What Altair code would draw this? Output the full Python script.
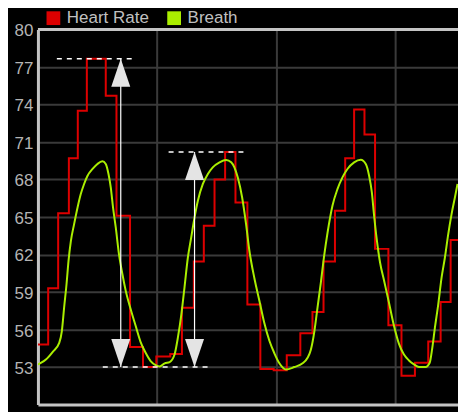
import altair as alt
import pandas as pd

# ---- data (time in s, value in bpm / breath scale) ----
series_names = ["Heart Rate", "Breath"]
series_colors = ["#dd0000", "#aaee00"]

hr_time = [0, 0.86, 1.70, 2.60, 3.35, 4.11, 5.70, 6.60, 7.74, 8.83, 9.95,
           11.12, 12.10, 13.10, 13.94, 14.84, 15.73, 16.60, 17.60, 18.69, 19.81,
           20.91, 22.05, 23.07, 24.00, 24.96, 25.82, 26.57, 27.44, 28.33, 29.45,
           30.55, 31.68, 32.80, 33.84, 34.68, 35.3]
hr_value = [54.8, 59.3, 65.3, 69.7, 73.5, 77.65, 74.7, 65.1, 54.6, 53.0, 53.85,
            54.05, 57.75, 61.45, 64.3, 68.0, 70.2, 66.15, 58.0, 52.85, 52.75,
            53.95, 55.7, 57.4, 61.45, 65.5, 69.7, 73.6, 71.6, 62.45, 56.35,
            52.3, 53.35, 55.05, 58.2, 63.15, 63.15]

br_time = [0, 0.11, 0.67, 1.23, 1.79, 2.01, 2.20, 2.41, 2.57, 2.77,
           3.04, 3.33, 3.60, 3.88, 4.17, 4.59, 5.00, 5.42, 5.70, 5.93,
           6.12, 6.31, 6.54, 6.81, 7.10, 7.38, 7.80, 8.21, 8.63, 9.05,
           9.47, 9.89, 10.23, 10.65, 11.07, 11.48, 11.76, 12.05, 12.32, 12.60,
           12.88, 13.16, 13.44, 13.86, 14.28, 14.69, 15.26, 15.82, 16.24, 16.51,
           16.79, 17.16, 17.49, 17.77, 18.19, 18.61, 19.03, 19.45, 19.87, 20.29,
           20.85, 21.54, 22.24, 22.66, 22.94, 23.22, 23.50, 23.78, 24.06, 24.33,
           24.75, 25.17, 25.59, 26.01, 26.57, 27.13, 27.55, 27.83, 28.06, 28.25,
           28.47, 28.75, 29.09, 29.51, 29.92, 30.34, 30.76, 31.18, 31.60, 32.02,
           32.58, 32.92, 33.14, 33.36, 33.64, 33.92, 34.20, 34.48, 34.76, 35.04,
           35.26]
br_value = [53.2, 53.26, 53.6, 54.2, 54.94, 55.88, 57.75, 59.7, 61.49, 63.09,
            64.43, 65.76, 66.83, 67.64, 68.3, 68.84, 69.24, 69.45, 69.24, 68.44,
            67.37, 65.76, 64.16, 62.03, 60.42, 59.09, 57.6, 56.3, 55.0, 54.14,
            53.48, 53.16, 53.05, 53.3, 53.4, 54.0, 55.35, 57.2, 59.4, 61.76,
            63.36, 64.96, 66.3, 67.64, 68.44, 68.97, 69.37, 69.56, 69.37, 68.97,
            68.17, 66.56, 64.43, 62.3, 60.1, 58.3, 56.5, 55.1, 54.1, 53.3,
            52.8, 53.0, 53.3, 53.74, 54.41, 55.8, 57.8, 59.8, 61.95, 63.7,
            65.9, 67.23, 68.17, 68.84, 69.37, 69.58, 69.24, 68.3, 66.96, 65.1,
            63.23, 61.36, 59.9, 58.1, 56.3, 54.85, 54.0, 53.53, 53.21, 53.0,
            53.0, 53.34, 54.54, 56.15, 58.02, 60.15, 61.76, 63.63, 65.23, 66.56,
            67.64]

y_ticks = [53, 56, 59, 62, 65, 68, 71, 74, 77, 80]
x_grid = [10, 20, 30]

# annotation arrows (amplitude markers)
arrow_x = [6.96, 13.16]
arrow_top = [77.65, 70.2]
arrow_bottom = [53.0, 53.0]
guide_start = [1.59, 10.98, 5.45]
guide_end = [7.96, 17.33, 14.33]
guide_level = [77.65, 70.2, 53.0]

# ---- tables ----
hr = pd.DataFrame({"t": hr_time, "v": hr_value, "series": series_names[0]})
br = pd.DataFrame({"t": br_time, "v": br_value, "series": series_names[1]})
arrows = pd.DataFrame({"t": arrow_x, "top": arrow_top, "bottom": arrow_bottom})
guides = pd.DataFrame({"t1": guide_start, "t2": guide_end, "v": guide_level})
legend_df = pd.DataFrame({"t": [-5, -5], "v": [60, 60], "series": series_names})
border_df = pd.DataFrame({"k": [0]})

FONT = "Liberation Sans"
GRID = "#3a3a3a"
FRAME = "#c4c4c4"

x_scale = alt.Scale(domain=[0, 35.3], nice=False, zero=False)
y_scale = alt.Scale(domain=[50, 80], nice=False, zero=False)
color_scale = alt.Scale(domain=series_names, range=series_colors)

x_axis = alt.Axis(values=x_grid, labels=False, ticks=False, grid=True,
                  gridColor=GRID, gridWidth=2, domainColor=FRAME, domainWidth=3)
y_axis = alt.Axis(values=y_ticks, ticks=False, labelPadding=5, labelFont=FONT,
                  labelFontSize=17, labelColor="#b4b4b4", labelOffset=1.5, grid=True,
                  gridColor=GRID, gridWidth=2, domainColor=FRAME, domainWidth=3)
legend = alt.Legend(
    title=None, orient="none", legendX=7, legendY=-20, direction="horizontal",
    symbolType="square", symbolSize=190, symbolStrokeWidth=0,
    labelFont=FONT, labelFontSize=17, labelColor="#c0c0c0", labelOffset=5,
    columnPadding=16, padding=0)


def X(field):
    return alt.X(field, type="quantitative", scale=x_scale, axis=x_axis, title=None)


def Y(field):
    return alt.Y(field, type="quantitative", scale=y_scale, axis=y_axis, title=None)


C = alt.Color("series:N", scale=color_scale, legend=legend)

legend_layer = alt.Chart(legend_df).mark_square(size=190, filled=True, opacity=1, clip=True).encode(
    x=X("t"), y=Y("v"), color=C,
)

hr_line = alt.Chart(hr).mark_line(interpolate="step-after", strokeWidth=2, clip=True).encode(
    x=X("t"), y=Y("v"), color=C,
)

br_line = alt.Chart(br).mark_line(interpolate="monotone", strokeWidth=2, clip=True).encode(
    x=X("t"), y=Y("v"), color=C,
)

guide_lines = alt.Chart(guides).mark_rule(color="white", strokeWidth=1.5, strokeDash=[5, 5]).encode(
    x=X("t1"), x2="t2", y=Y("v"),
)

shafts = alt.Chart(arrows).mark_rule(color="white", strokeWidth=1.2).encode(
    x=X("t"), y=Y("top"), y2="bottom",
)

heads_up = alt.Chart(arrows).mark_point(
    shape="M0,0L0.68,2L-0.68,2Z", size=784, filled=True, opacity=1,
    color="#e4e4e4", strokeWidth=0).encode(x=X("t"), y=Y("top"))

heads_down = alt.Chart(arrows).mark_point(
    shape="M0,0L0.68,-2L-0.68,-2Z", size=784, filled=True, opacity=1,
    color="#e4e4e4", strokeWidth=0).encode(x=X("t"), y=Y("bottom"))

top_border = alt.Chart(border_df).mark_rule(color=FRAME, strokeWidth=3).encode(
    x=alt.value(0), x2=alt.value(421), y=alt.value(0),
)

chart = alt.layer(
    legend_layer, hr_line, br_line, guide_lines, shafts, heads_up, heads_down, top_border
).properties(
    width=421, height=376, background="black",
    padding={"left": 30, "top": 21, "right": 0, "bottom": 7},
    autosize=alt.AutoSizeParams(type="none"),
).configure_view(strokeWidth=0)

chart.save("out.html", embed_options={"renderer": "svg", "actions": False})
